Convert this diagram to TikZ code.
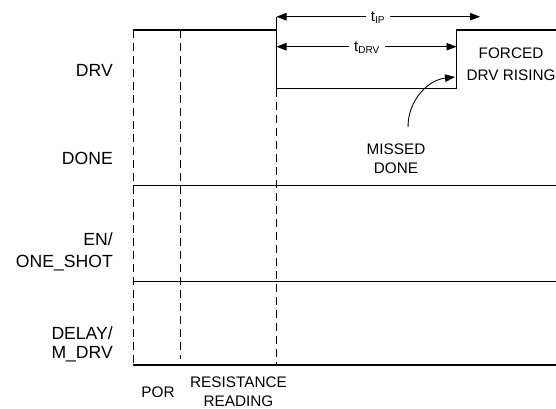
\documentclass[tikz,border=0pt]{standalone}
\usepackage{fontspec}
\setmainfont{Liberation Sans}
\usetikzlibrary{arrows.meta}
\begin{document}
\begin{tikzpicture}[x=1pt,y=-1pt,
  wave/.style={line width=1.1pt},
  grid/.style={line width=0.9pt},
  guide/.style={line width=0.9pt,dash pattern=on 8pt off 5pt},
  dim/.style={line width=0.9pt,{Triangle[length=10pt,width=7.5pt]}-{Triangle[length=10pt,width=7.5pt]}},
  sig/.style={font=\fontsize{17.6}{21}\selectfont,align=right,anchor=base east,inner sep=0pt},
  note/.style={font=\fontsize{15.3}{19}\selectfont,align=center,inner sep=0pt},
  dimlbl/.style={font=\fontsize{15}{17}\selectfont,fill=white,inner xsep=5pt,inner ysep=1pt}]
\useasboundingbox (0,0) rectangle (556,408);
% key points
\coordinate (drvS) at (133,30);
\coordinate (drvF) at (276.5,30);
\coordinate (drvL) at (276.5,88.7);
\coordinate (drvLR) at (456.5,88.7);
\coordinate (drvR) at (456.5,30);
\coordinate (drvE) at (556,30);
\coordinate (ipL) at (276.5,16.7);
\coordinate (ipR) at (480,16.7);
\coordinate (dvL) at (276.5,46.7);
\coordinate (dvR) at (456.5,46.7);
% waveforms
\draw[wave] (drvS) -- (drvF) -- (drvL) -- (drvLR) -- (drvR) -- (drvE);
\draw[grid] (ipL) -- (drvF);
\draw[wave] (133,185.3) coordinate (doneS) -- (556,185.3) coordinate (doneE);
\draw[wave] (133,281.3) coordinate (enS) -- (556,281.3) coordinate (enE);
\draw[wave] (133,365) coordinate (dlS) -- (556,365) coordinate (dlE);
% guides
\draw[guide] (133,30) coordinate (g1a) -- (133,365) coordinate (g1b);
\draw[guide] (180,30) coordinate (g2a) -- (180,359) coordinate (g2b);
\draw[guide] (drvL) -- (276.5,365) coordinate (g3b);
% dimension arrows
\draw[dim] (ipL) -- (ipR);
\node[dimlbl] (tip) at (378,18) {t\textsubscript{\fontsize{10}{10}\selectfont IP}};
\draw[dim] (dvL) -- (dvR);
\node[dimlbl] (tdrv) at (367,48) {t\textsubscript{\fontsize{10}{10}\selectfont DRV}};
% signal labels
\node[sig] (lDRV) at (113,76) {DRV};
\node[sig] (lDONE) at (113,164) {DONE};
\node[sig,font=\fontsize{17.6}{22}\selectfont] (lEN) at (113,267) {EN/\\ONE\_SHOT};
\node[sig,font=\fontsize{17.6}{19}\selectfont] (lDL) at (113,358) {DELAY/\\M\_DRV};
% notes
\node[note,anchor=base,font=\fontsize{15.3}{22}\selectfont] (forced) at (511,80) {FORCED\\DRV RISING};
\node[note,anchor=base] (missed) at (396,173) {MISSED\\DONE};
\node[note,anchor=base] (por) at (158,397) {POR};
\node[note,anchor=base] (res) at (238.5,406) {RESISTANCE\\READING};
% missed done arrow
\coordinate (mdS) at (408,127);
\coordinate (mdT) at (455,77);
\draw[line width=0.9pt,-{Triangle[length=10pt,width=7.5pt]}] (mdS) .. controls (408,100) and (428,80) .. (mdT);
\end{tikzpicture}
\end{document}
